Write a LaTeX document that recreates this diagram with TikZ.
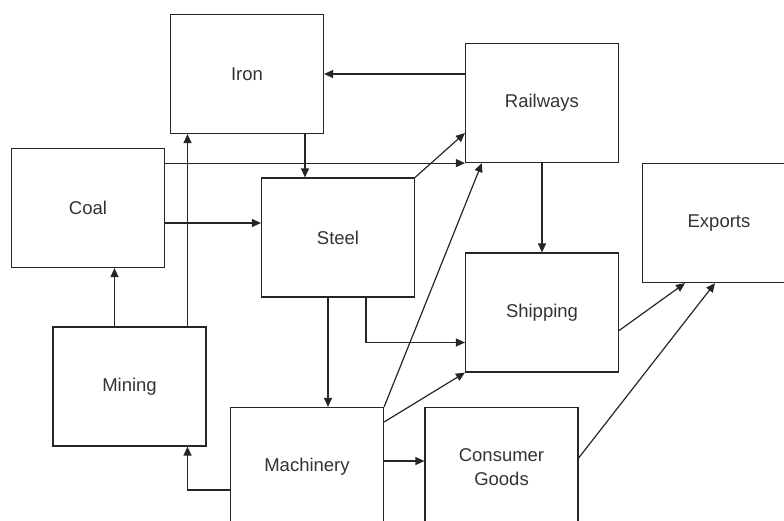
\documentclass[tikz,border=0pt]{standalone}
\usepackage{fontspec}
\setmainfont{Liberation Sans}
\usetikzlibrary{arrows.meta}
\begin{document}
\begin{tikzpicture}[x=1pt,y=-1pt,
  box/.style={draw=black!85,line width=1.2pt,minimum width=153pt,minimum height=119pt,inner sep=0pt,align=center,text=black!80,font=\fontsize{18.5}{24}\selectfont},
  arr/.style={draw=black!85,line width=1.2pt,-{Triangle[length=9pt,width=8pt]}},
  ln/.style={draw=black!85,line width=1.2pt}]
\useasboundingbox (0,0) rectangle (784,520);
\node[box] (Iron) at (247,74) {Iron};
\node[box] (Railways) at (542,103) {Railways};
\node[box] (Coal) at (88,208) {Coal};
\node[box] (Steel) at (338,237.5) {Steel};
\node[box] (Exports) at (719,223) {Exports};
\node[box] (Shipping) at (542,312.5) {Shipping};
\node[box] (Mining) at (129.5,386.5) {Mining};
\node[box] (Machinery) at (307,467) {Machinery};
\node[box] (CG) at (501.5,467) {Consumer\\Goods};
% connectors
\draw[arr] (Railways.west |- Iron.east) -- (Iron.east);
\draw[arr] ([xshift=58pt]Iron.south) -- ([xshift=58pt]Iron.south |- Steel.north);
\draw[arr] (Railways.south west -| Coal.east) -- (Railways.south west);
\coordinate (c1) at ([yshift=-15pt]Coal.east);
\draw[arr] (c1) -- (Steel.west |- c1);
\draw[arr] ([xshift=58pt]Mining.north) -- ([xshift=58pt]Mining.north |- Iron.south);
\draw[arr] ([xshift=-15pt]Mining.north) -- ([xshift=-15pt]Mining.north |- Coal.south);
\draw[arr] (Steel.north east) -- ([yshift=-30pt]Railways.west);
\draw[arr] (Machinery.north east) -- ([xshift=17pt]Railways.south west);
\draw[arr] (Railways.south) -- (Shipping.north);
\draw[arr] ([xshift=-10pt]Steel.south) -- ([xshift=-10pt]Steel.south |- Machinery.north);
\draw[arr] ([xshift=28pt]Steel.south) |- ([yshift=-30pt]Shipping.west);
\draw[arr] ([yshift=45pt]Machinery.east) -- (Shipping.south west);
\coordinate (m1) at ([yshift=6pt]Machinery.east);
\draw[arr] (m1) -- (CG.west |- m1);
\draw[arr] ([yshift=-23pt]Machinery.west) -| ([xshift=58pt]Mining.south);
\draw[arr] ([yshift=-18pt]Shipping.east) -- ([xshift=-34pt]Exports.south);
\draw[arr] ([yshift=9pt]CG.east) -- ([xshift=-4pt]Exports.south);
\end{tikzpicture}
\end{document}
